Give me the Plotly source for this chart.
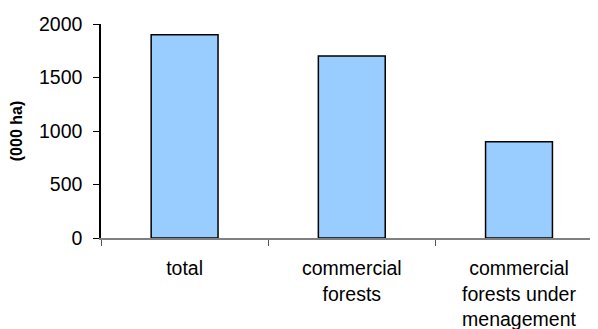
import plotly.graph_objects as go

categories = ["total", "commercial<br>forests", "commercial<br>forests under<br>menagement"]
values = [1900, 1700, 900]
y_ticks = [0, 500, 1000, 1500, 2000]

fig = go.Figure(go.Bar(
    x=categories, y=values, width=0.4,
    marker=dict(color="#99CCFF", line=dict(color="#000000", width=1.5)),
))

# page body has an 8px default margin, so shrink the figure accordingly
fig.update_layout(
    width=590, height=321,
    margin=dict(l=93, r=0, t=16, b=91),
    paper_bgcolor="white", plot_bgcolor="white",
    font=dict(family="Liberation Sans, Arial, sans-serif", size=19.5, color="black"),
    showlegend=False,
)
fig.update_xaxes(
    type="category", range=[-0.5, 2.4725],
    showline=True, linecolor="#808080", linewidth=1.5,
    ticks="outside", tickson="boundaries", ticklen=6, tickcolor="#555555", tickwidth=1,
    showgrid=False, zeroline=False, ticklabelstandoff=12,
)
fig.update_yaxes(
    range=[0, 2000], tickvals=y_ticks,
    showline=True, linecolor="#000000", linewidth=1.5,
    ticks="outside", ticklen=6, tickcolor="#000000", tickwidth=1,
    showgrid=False, zeroline=False, ticklabelstandoff=7,
    title=dict(text="<b>(000 ha)</b>", font=dict(size=16), standoff=12),
)
fig.write_html("out.html")
